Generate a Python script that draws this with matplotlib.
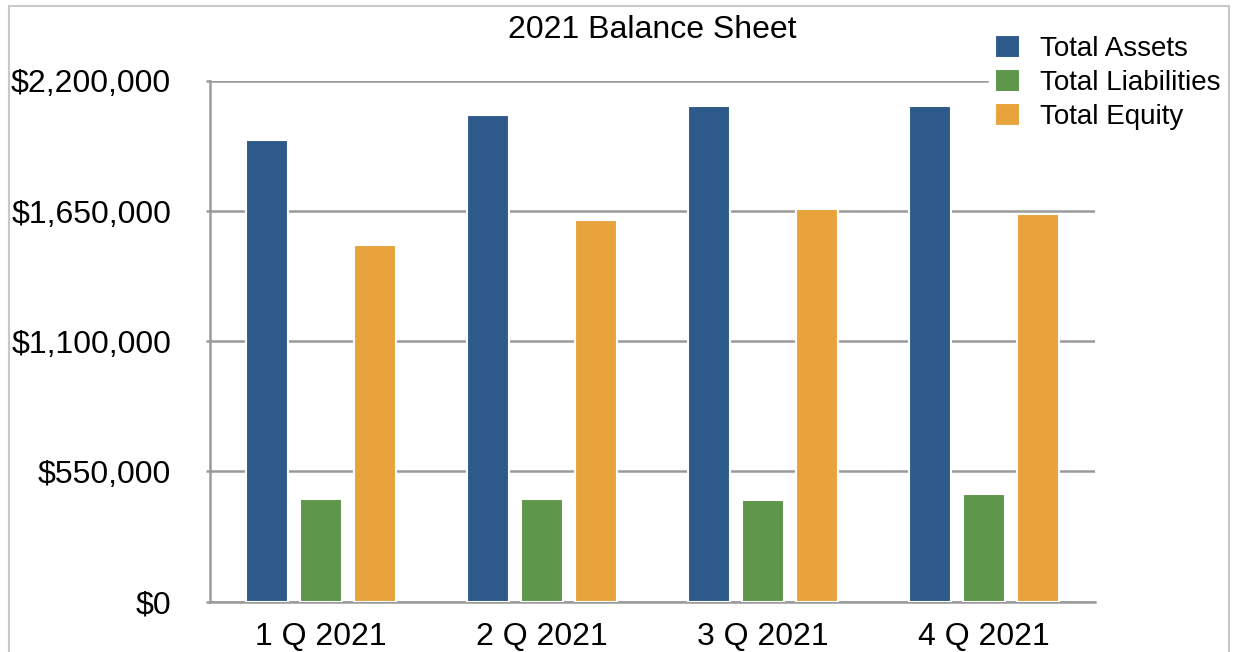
import matplotlib.pyplot as plt
import numpy as np
from matplotlib.patches import Rectangle
from matplotlib.ticker import FuncFormatter

quarters = ["1 Q 2021", "2 Q 2021", "3 Q 2021", "4 Q 2021"]
total_assets = [1950000, 2056000, 2094000, 2094000]
total_liabilities = [434000, 434000, 428000, 454000]
total_equity = [1507000, 1612000, 1658000, 1638000]

series = [
    ("Total Assets", total_assets, "#2E5A8B"),
    ("Total Liabilities", total_liabilities, "#5E9749"),
    ("Total Equity", total_equity, "#E8A33C"),
]

plt.rcParams["font.family"] = ["Liberation Sans", "DejaVu Sans"]

fig = plt.figure(figsize=(12.39, 6.52), dpi=100)
ax = fig.add_axes([210 / 1239, 1 - 601.5 / 652, 885 / 1239, 520.5 / 652])

# light frame around the whole chart
fig.add_artist(Rectangle((9 / 1239, -0.1), 1220 / 1239, 1.1 - 6 / 652,
                         transform=fig.transFigure, fill=False,
                         edgecolor="#c8c8c8", linewidth=1.5, zorder=10))

x = np.arange(len(quarters))
pitch = 0.244
width = 0.19
for i, (name, vals, color) in enumerate(series):
    ax.bar(x + (i - 1) * pitch, vals, width, color=color, label=name,
           edgecolor="white", linewidth=1.5, zorder=3)

ax.set_xlim(-0.5, 3.5)
ax.set_ylim(0, 2200000)
ax.set_yticks([0, 550000, 1100000, 1650000, 2200000])
ax.yaxis.set_major_formatter(FuncFormatter(lambda v, p: "${:,.0f}".format(v)))
ax.grid(axis="y", color="#9a9a9a", linewidth=1.8, zorder=0)
ax.set_xticks(x)
ax.set_xticklabels(quarters)
ax.tick_params(axis="y", length=3, color="#9a9a9a", width=1.8, labelsize=23, pad=25)
ax.tick_params(axis="x", length=0, labelsize=23, pad=15)
for side in ["top", "right"]:
    ax.spines[side].set_visible(False)
ax.spines["left"].set_color("#9a9a9a")
ax.spines["left"].set_linewidth(1.8)
ax.spines["bottom"].set_color("#9a9a9a")
ax.spines["bottom"].set_linewidth(1.8)

ax.set_title("2021 Balance Sheet", fontsize=23, pad=31)

leg = fig.legend(loc="upper left", bbox_to_anchor=(989 / 1239, 1 - 29 / 652),
                 frameon=True, fontsize=20, handlelength=0.9, handleheight=0.9,
                 handletextpad=0.75, labelspacing=0.25, borderaxespad=0,
                 borderpad=0.2)
leg.get_frame().set_edgecolor("white")
leg.get_frame().set_facecolor("white")
leg.get_frame().set_alpha(1)

fig.savefig("out.png", dpi=100)
